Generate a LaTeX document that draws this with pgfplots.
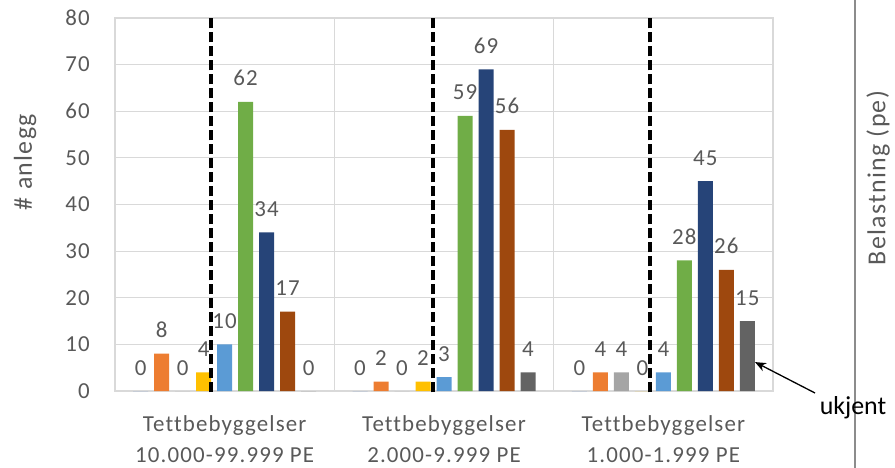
\documentclass[border=0pt]{standalone}
\usepackage{fontspec}
\setmainfont{Carlito}[LetterSpace=5, Ligatures=NoCommon]
\newfontfamily\ukfont{Carlito}
\usepackage{pgfplots}
\pgfplotsset{compat=1.18}
\usetikzlibrary{arrows.meta}
\definecolor{s1}{HTML}{4472C4}
\definecolor{s2}{HTML}{ED7D31}
\definecolor{s3}{HTML}{A5A5A5}
\definecolor{s4}{HTML}{FFC000}
\definecolor{s5}{HTML}{5B9BD5}
\definecolor{s6}{HTML}{70AD47}
\definecolor{s7}{HTML}{264478}
\definecolor{s8}{HTML}{9E480E}
\definecolor{s9}{HTML}{636363}
\definecolor{lbl}{HTML}{595959}
\definecolor{grd}{HTML}{D9D9D9}
\begin{document}
\begin{tikzpicture}
\useasboundingbox (0bp,0bp) rectangle (895bp,-468bp);
\begin{axis}[
  at={(115bp,-391bp)}, anchor=south west,
  scale only axis, width=658bp, height=373bp,
  xmin=-0.5, xmax=2.5, ymin=0, ymax=80,
  clip=false,
  ybar,
  /pgf/number format/assume math mode=true,
  ytick={0,10,...,80},
  xtick={0,1,2},
  xticklabels={{Tettbebyggelser\\10.000-99.999 PE},{Tettbebyggelser\\2.000-9.999 PE},{Tettbebyggelser\\1.000-1.999 PE}},
  major tick length=0pt,
  ymajorgrids, grid style={grd, line width=1.2bp},
  axis line style={grd, line width=1.2bp},
  yticklabel style={font=\fontsize{23}{23}\selectfont, text=lbl, anchor=east, inner sep=0pt, xshift=-25bp},
  xticklabel style={font=\fontsize{23}{31}\selectfont, text=lbl, align=center, anchor=north, inner sep=0pt, yshift=-24bp},
  bar width=15bp,
  nodes near coords,
  every node near coord/.append style={font=\fontsize{23}{23}\selectfont, text=lbl, anchor=base, inner sep=0pt, yshift=16bp},
]
\draw[grd, line width=1.2bp] (axis cs:0.5,0) -- (axis cs:0.5,80);
\draw[grd, line width=1.2bp] (axis cs:1.5,0) -- (axis cs:1.5,80);
\addplot[fill=s1, draw=none, bar shift=-84bp] coordinates {(0,0) (1,0) (2,0)};
\addplot[fill=s2, draw=none, bar shift=-63bp] coordinates {(0,8) (1,2) (2,4)};
\addplot[fill=s3, draw=none, bar shift=-42bp] coordinates {(0,0) (1,0) (2,4)};
\addplot[fill=s4, draw=none, bar shift=-21bp] coordinates {(0,4) (1,2) (2,0)};
\addplot[fill=s5, draw=none, bar shift=0bp] coordinates {(0,10) (1,3) (2,4)};
\addplot[fill=s6, draw=none, bar shift=21bp] coordinates {(0,62) (1,59) (2,28)};
\addplot[fill=s7, draw=none, bar shift=42bp] coordinates {(0,34) (1,69) (2,45)};
\addplot[fill=s8, draw=none, bar shift=63bp] coordinates {(0,17) (1,56) (2,26)};
\addplot[fill=s9, draw=none, bar shift=84bp] coordinates {(0,0) (1,4) (2,15)};
\draw[black, line width=3.4bp, dash pattern=on 10bp off 4bp] (axis cs:-0.062,-0.3) -- (axis cs:-0.062,80.6);
\draw[black, line width=3.4bp, dash pattern=on 10bp off 4bp] (axis cs:0.950,-0.3) -- (axis cs:0.950,80.6);
\draw[black, line width=3.4bp, dash pattern=on 10bp off 4bp] (axis cs:1.939,-0.3) -- (axis cs:1.939,80.6);
\coordinate (tip) at (axis cs:2.418,6.2);
\end{axis}
\node[rotate=90, font=\fontsize{26}{26}\selectfont, text=lbl] at (25bp,-162bp) {\# anlegg};
\draw[color=black!45, line width=1.2bp] (855bp,0bp) -- (855bp,-468bp);
\node[rotate=90, font=\fontsize{26}{26}\selectfont, text=lbl] at (878bp,-178bp) {Belastning (pe)};
\draw[-{Stealth[length=11bp,width=9bp]}, line width=1.3bp] (815bp,-393bp) -- (tip);
\node[font=\ukfont\fontsize{26}{26}\selectfont, anchor=base, inner sep=0pt] at (853bp,-414bp) {ukjent};
\end{tikzpicture}
\end{document}
